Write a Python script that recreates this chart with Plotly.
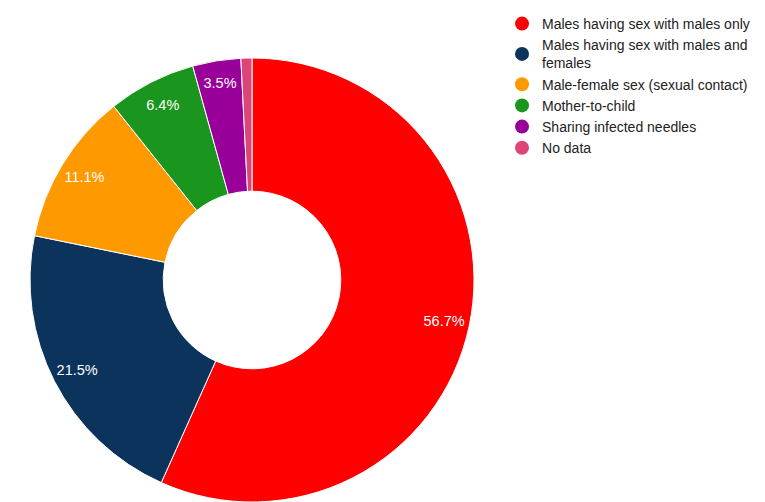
import plotly.graph_objects as go

labels = [
    "Males having sex with males only",
    "Males having sex with males and<br>females",
    "Male-female sex (sexual contact)",
    "Mother-to-child",
    "Sharing infected needles",
    "No data",
]
values = [56.7, 21.5, 11.1, 6.4, 3.5, 0.8]
colors = ["#ff0000", "#0b335c", "#ff9900", "#1a961e", "#990099", "#dd4477"]
show_label = [True, True, True, True, True, False]

# the page body has an 8px margin, so the figure is drawn 8px in from the window edge
W, H = 757, 494
cx, cy, r = 244, 272, 222
dom = dict(x=[(cx - r) / W, (cx + r) / W], y=[(H - cy - r) / H, (H - cy + r) / H])

fig = go.Figure()
# coloured donut
fig.add_trace(go.Pie(
    labels=labels,
    values=values,
    hole=0.4,
    sort=False,
    direction="clockwise",
    rotation=0,
    marker=dict(colors=colors, line=dict(color="white", width=1)),
    textinfo="none",
    showlegend=False,
    domain=dom,
))
# transparent outer ring that carries the percentage labels near the rim
fig.add_trace(go.Pie(
    labels=labels,
    values=values,
    hole=0.77,
    sort=False,
    direction="clockwise",
    rotation=0,
    marker=dict(colors=["rgba(0,0,0,0)"] * len(values), line=dict(width=0)),
    texttemplate=["%{percent:.1%}" if s else "" for s in show_label],
    textposition="inside",
    insidetextorientation="horizontal",
    textfont=dict(family="Liberation Sans, Arial", size=14.5, color="white"),
    hoverinfo="skip",
    showlegend=False,
    domain=dom,
))

for lab, col in zip(labels, colors):
    fig.add_trace(go.Scatter(
        x=[None], y=[None], mode="markers", name=lab,
        marker=dict(symbol="circle", size=14, color=col),
        showlegend=True,
    ))

fig.update_layout(
    width=W, height=H,
    margin=dict(l=0, r=0, t=0, b=0),
    paper_bgcolor="white",
    plot_bgcolor="white",
    xaxis=dict(visible=False),
    yaxis=dict(visible=False),
    legend=dict(
        x=0.6526, y=1.0, xanchor="left", yanchor="top",
        font=dict(family="Liberation Sans, Arial", size=14, color="#222222"),
        tracegroupgap=0,
        itemwidth=30,
        bgcolor="rgba(0,0,0,0)",
    ),
)

fig.write_html("out.html")
